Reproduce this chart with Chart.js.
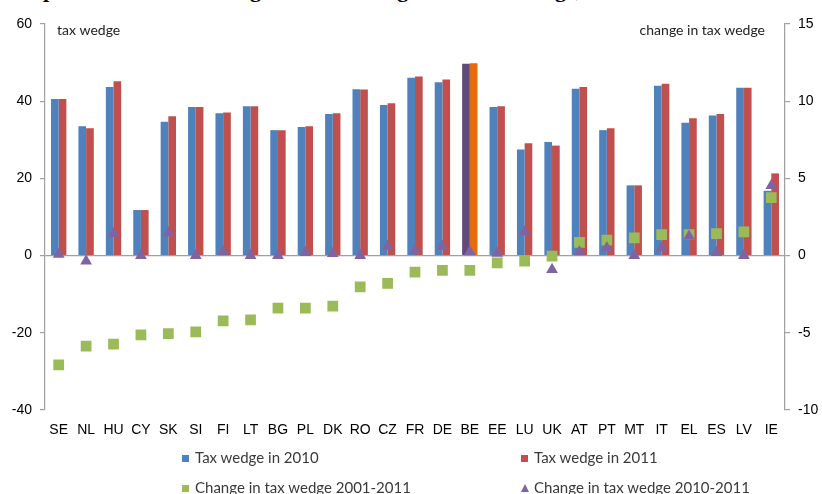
<!DOCTYPE html>
<html>
<head>
<meta charset="utf-8">
<title>Tax wedge</title>
<script src="https://cdn.jsdelivr.net/npm/chart.js@4.4.1/dist/chart.umd.min.js"></script>
<style>
  body { margin: 0; background: #fff; }
  #wrap { position: relative; width: 822px; height: 494px; overflow: hidden; }
  #chart { position: absolute; left: 0; top: 0; }
  .title {
    position: absolute; left: 5px; top: -23px; white-space: nowrap;
    font: bold 22px "Liberation Serif", serif; color: #000;
  }
  .legend-item {
    position: absolute; font: 15px Lato, "Open Sans", sans-serif; color: #3a3a3a;
    white-space: nowrap; line-height: 18px;
  }
  .legend-item .swatch {
    display: inline-block; width: 7px; height: 7px; margin-right: 6px; vertical-align: 1px;
  }
  .legend-item .tri {
    display: inline-block; width: 0; height: 0; margin-right: 5px; vertical-align: 1px;
    border-left: 4px solid transparent; border-right: 4px solid transparent;
    border-bottom: 8px solid #8064a2;
  }
</style>
</head>
<body>
<div id="wrap">
  <div class="title">Graph 1: Level of tax wedge and the change in the tax wedge, 2001-2011</div>
  <canvas id="chart" width="822" height="494"></canvas>
  <div class="legend-item" style="left:182px; top:448px;"><span class="swatch" style="background:#4f81bd"></span>Tax wedge in 2010</div>
  <div class="legend-item" style="left:521px; top:448px;"><span class="swatch" style="background:#c0504d"></span>Tax wedge in 2011</div>
  <div class="legend-item" style="left:182px; top:478px;"><span class="swatch" style="background:#9bbb59"></span>Change in tax wedge 2001-2011</div>
  <div class="legend-item" style="left:521px; top:478px;"><span class="tri"></span>Change in tax wedge 2010-2011</div>
</div>
<script>
const countries = ["SE", "NL", "HU", "CY", "SK", "SI", "FI", "LT", "BG", "PL", "DK", "RO", "CZ", "FR",
  "DE", "BE", "EE", "LU", "UK", "AT", "PT", "MT", "IT", "EL", "ES", "LV", "IE"];

// tax wedge levels (left axis)
const wedge2010 = [40.6, 33.5, 43.7, 11.8, 34.7, 38.5, 36.9, 38.7, 32.5, 33.3, 36.7, 43.1, 39.0, 46.1,
  44.9, 49.7, 38.5, 27.5, 29.4, 43.2, 32.5, 18.2, 44.0, 34.4, 36.3, 43.5, 16.8];
const wedge2011 = [40.6, 33.0, 45.2, 11.8, 36.1, 38.5, 37.1, 38.7, 32.5, 33.5, 36.9, 43.0, 39.5, 46.4,
  45.6, 49.8, 38.7, 29.1, 28.5, 43.7, 33.0, 18.2, 44.5, 35.6, 36.7, 43.5, 21.3];

// changes in percentage points (right axis)
const change2001to2011 = [-7.07, -5.87, -5.73, -5.13, -5.06, -4.94, -4.22, -4.16, -3.4, -3.4, -3.27, -2.03, -1.8, -1.07,
  -0.95, -0.95, -0.47, -0.35, -0.04, 0.86, 1.0, 1.14, 1.36, 1.36, 1.42, 1.53, 3.75];
const change2010to2011 = [0.08, -0.35, 1.42, 0.0, 1.47, 0.0, 0.24, 0.0, 0.0, 0.2, 0.13, 0.0, 0.6, 0.3,
  0.6, 0.24, 0.15, 1.53, -0.9, 0.24, 0.5, 0.0, 0.5, 1.25, 0.2, 0.0, 4.53];

const leftTicks = [-40, -20, 0, 20, 40, 60];
const rightTicks = [-10, -5, 0, 5, 10, 15];

const axisGrey = "#a0a0a0";
const blue = "#4f81bd";
const red = "#c0504d";
const highlight = { BE: ["#604a7b", "#e46c0a"] };

const blueColors = countries.map((c) => (highlight[c] ? highlight[c][0] : blue));
const redColors = countries.map((c) => (highlight[c] ? highlight[c][1] : red));

const axisTitles = {
  id: "axisTitles",
  afterDraw(chart) {
    const { ctx, chartArea } = chart;
    ctx.save();
    ctx.font = '14px Lato, "Open Sans", sans-serif';
    ctx.fillStyle = "#222";
    ctx.textBaseline = "middle";
    ctx.textAlign = "left";
    ctx.fillText("tax wedge", chartArea.left + 12, chartArea.top + 6);
    ctx.textAlign = "right";
    ctx.fillText("change in tax wedge", chartArea.right - 20, chartArea.top + 6);
    ctx.restore();
  },
};

new Chart(document.getElementById("chart"), {
  type: "bar",
  data: {
    labels: countries,
    datasets: [
      {
        label: "Change in tax wedge 2010-2011",
        type: "line",
        data: change2010to2011,
        yAxisID: "y1",
        showLine: false,
        pointStyle: "triangle",
        pointRadius: 6.8,
        pointBackgroundColor: "#8064a2",
        pointBorderColor: "#8064a2",
        pointBorderWidth: 0,
        order: 1,
      },
      {
        label: "Change in tax wedge 2001-2011",
        type: "line",
        data: change2001to2011,
        yAxisID: "y1",
        showLine: false,
        pointStyle: "rect",
        pointRadius: 7.6,
        pointBackgroundColor: "#9bbb59",
        pointBorderColor: "#9bbb59",
        pointBorderWidth: 0,
        order: 2,
      },
      {
        label: "Tax wedge in 2010",
        data: wedge2010,
        yAxisID: "y",
        backgroundColor: blueColors,
        categoryPercentage: 0.56,
        barPercentage: 1.0,
        order: 3,
      },
      {
        label: "Tax wedge in 2011",
        data: wedge2011,
        yAxisID: "y",
        backgroundColor: redColors,
        categoryPercentage: 0.56,
        barPercentage: 1.0,
        order: 3,
      },
    ],
  },
  options: {
    responsive: false,
    animation: false,
    layout: { padding: { top: 24, bottom: 34, left: 0, right: 0 } },
    plugins: {
      legend: { display: false },
      tooltip: { enabled: false },
    },
    scales: {
      x: {
        grid: { display: false, drawTicks: false },
        border: { display: false },
        ticks: {
          color: "#000",
          padding: 12,
          maxRotation: 0,
          autoSkip: false,
          font: { family: '"Liberation Sans", Arial, sans-serif', size: 14 },
        },
        afterFit(scale) { scale.height = 50; },
      },
      y: {
        position: "left",
        min: leftTicks[0],
        max: leftTicks[leftTicks.length - 1],
        afterBuildTicks(scale) { scale.ticks = leftTicks.map((v) => ({ value: v })); },
        grid: {
          color: (ctx) => (ctx.tick && ctx.tick.value === 0 ? axisGrey : "rgba(0,0,0,0)"),
          tickColor: axisGrey,
          tickLength: 5,
          lineWidth: 1.2,
        },
        border: { display: true, color: axisGrey, width: 1.2 },
        ticks: {
          color: "#000",
          padding: 8,
          font: { family: '"Liberation Sans", Arial, sans-serif', size: 14 },
        },
        afterFit(scale) { scale.width = 45; },
      },
      y1: {
        position: "right",
        min: rightTicks[0],
        max: rightTicks[rightTicks.length - 1],
        afterBuildTicks(scale) { scale.ticks = rightTicks.map((v) => ({ value: v })); },
        grid: { drawOnChartArea: false, tickColor: axisGrey, tickLength: 5, lineWidth: 1.2 },
        border: { display: true, color: axisGrey, width: 1.2 },
        ticks: {
          color: "#000",
          padding: 8,
          font: { family: '"Liberation Sans", Arial, sans-serif', size: 14 },
        },
        afterFit(scale) { scale.width = 37; },
      },
    },
  },
  plugins: [axisTitles],
});
</script>
</body>
</html>
